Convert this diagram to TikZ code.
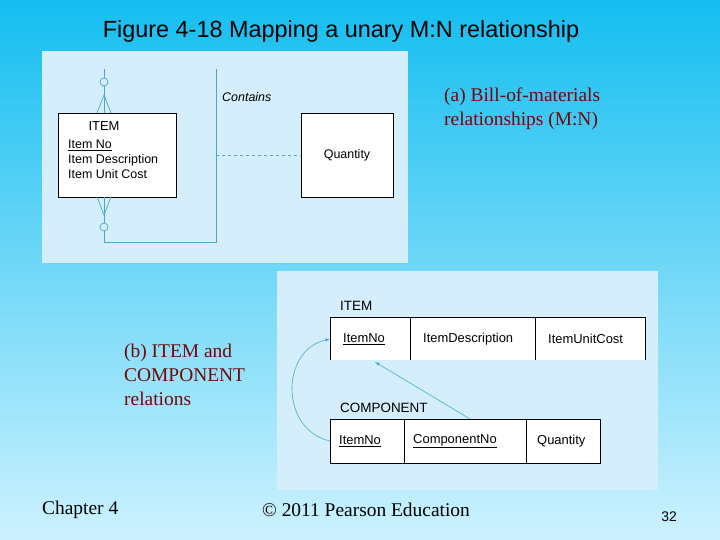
\documentclass[tikz,border=0pt]{standalone}
\usepackage{fontspec}
\setmainfont{Liberation Serif}
\newfontfamily\arial{Liberation Sans}
\usetikzlibrary{positioning}
\definecolor{panel}{RGB}{212,238,251}
\definecolor{erline}{RGB}{70,170,205}
\definecolor{capred}{RGB}{110,10,10}
\tikzset{
  box/.style={draw=black,fill=white,line width=0.6pt},
  cell/.style={anchor=west,font=\arial\fontsize{13}{15}\selectfont,inner sep=0pt},
  captext/.style={anchor=north west,align=left,text=capred,font=\fontsize{19.5}{24}\selectfont,inner sep=0pt},
}
\begin{document}
\begin{tikzpicture}[x=1bp,y=-1bp]
\shade[top color={rgb,255:red,20;green,190;blue,240},bottom color={rgb,255:red,205;green,242;blue,255}] (0,0) rectangle (720,540);
\useasboundingbox (0,0) rectangle (720,540);
\node (title) at (341,31) {\arial\fontsize{23.5}{26}\selectfont Figure 4-18 Mapping a unary M:N relationship};
% (a) E-R diagram
\fill[panel] (42,51) rectangle (408,263);
\node[box,minimum width=118bp,minimum height=84bp] (item) at (117,155) {};
\node[anchor=north,font=\arial\fontsize{13}{15}\selectfont,inner sep=0pt] (itemname) at (104,121) {ITEM};
\node[anchor=north west,align=left,font=\arial\fontsize{12.5}{15}\selectfont,inner sep=0pt] (itemattr) at (68,140)
  {\underline{Item No}\\Item Description\\Item Unit Cost};
\node[box,minimum width=92bp,minimum height=84bp] (qty) at (347,155) {};
\node[font=\arial\fontsize{12.5}{14}\selectfont] at (qty) {Quantity};
\node[anchor=west,font=\arial\itshape\fontsize{12.5}{14}\selectfont,inner sep=0pt] (contains) at (222,97) {Contains};
\begin{scope}[erline,line width=0.7pt]
\draw (104,69) -- (104,113);
\draw (104,197) -- (104,242) -- (216,242) -- (216,69);
\draw[fill=panel] (104,82) circle (4);
\draw[fill=panel] (104,227) circle (4);
\draw (97,113) -- (104,95) -- (111,113);
\draw (97,197) -- (104,215) -- (111,197);
\draw[dashed] (216,155) -- (qty.west);
\end{scope}
\node[captext] (capa) at (444,88) {(a) Bill-of-materials\\relationships (M:N)};
% (b) relations
\fill[panel] (277,271) rectangle (658,490);
\node[anchor=west,font=\arial\fontsize{13.5}{15}\selectfont,inner sep=0pt] (rel1) at (340,306) {ITEM};
\fill[white] (330,317) rectangle (645,360);
\draw (330,360) -- (330,317) -- (645,317) -- (645,360);
\draw (410,317) -- (410,360);
\draw (535,317) -- (535,360);
\node[cell] (itemno) at (343,339) {\underline{ItemNo}};
\node[cell] (itemdesc) at (423,339) {ItemDescription};
\node[cell] (itemcost) at (548,339) {ItemUnitCost};
\node[anchor=west,font=\arial\fontsize{13.5}{15}\selectfont,inner sep=0pt] (rel2) at (340,408) {COMPONENT};
\draw[fill=white] (330,419) rectangle (600,463);
\draw (404,419) -- (404,463);
\draw (526,419) -- (526,463);
\node[cell] (compitem) at (339,441) {\underline{ItemNo}};
\node[cell] (compno) at (413,441) {\underline{ComponentNo}};
\node[cell] (compqty) at (537,441) {Quantity};
\coordinate (a1) at (330,441);
\coordinate (a2) at (330,339);
\coordinate (b1) at (470,419);
\coordinate (b2) at (375,362);
\draw[erline,-latex,line width=0.6pt] (a1) .. controls (280,430) and (280,350) .. (a2);
\draw[erline,-latex,line width=0.6pt] (b1) -- (b2);
\node[captext] (capb) at (124,344) {(b) ITEM and\\COMPONENT\\relations};
% footer
\node[anchor=west,font=\fontsize{19.5}{22}\selectfont,inner sep=0pt] (chap) at (42,510) {Chapter 4};
\node[font=\fontsize{19.5}{22}\selectfont,inner sep=0pt] (copy) at (366,510) {© 2011 Pearson Education};
\node[font=\arial\fontsize{14}{16}\selectfont,inner sep=0pt] (page) at (669,517) {32};
\end{tikzpicture}
\end{document}
